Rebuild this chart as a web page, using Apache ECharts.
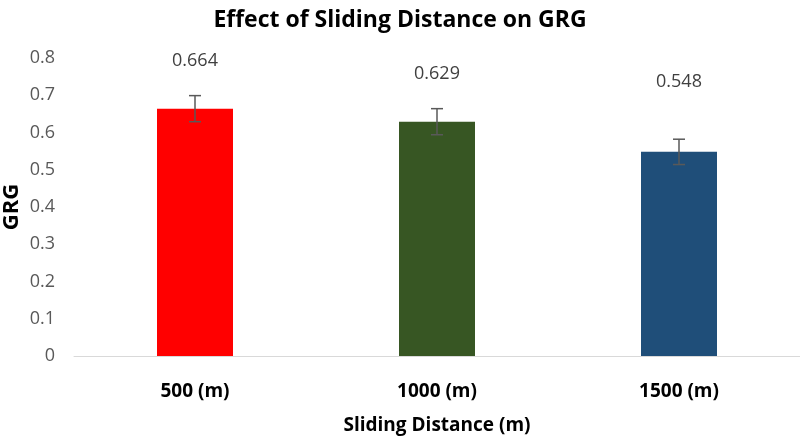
<!DOCTYPE html>
<html>
<head>
<meta charset="utf-8">
<script src="https://cdn.jsdelivr.net/npm/echarts@6/dist/echarts.min.js"></script>
<style>
  html, body { margin: 0; padding: 0; background: #fff; }
  #main { width: 800px; height: 436px; }
</style>
</head>
<body>
<div id="main"></div>
<script>
  // data
  var categories = ['500 (m)', '1000 (m)', '1500 (m)'];
  var grgValues = [0.664, 0.629, 0.548];
  var errValues = [0.035, 0.035, 0.034];
  var barColors = ['#ff0000', '#375623', '#1f4e79'];
  var yTicks = [0, 0.1, 0.2, 0.3, 0.4, 0.5, 0.6, 0.7, 0.8];

  // label gap above each bar (px), matches the hand placed labels
  var labelGap = [39, 39, 61];

  var chart = echarts.init(document.getElementById('main'));
  var font = '"Open Sans", "Noto Sans", sans-serif';

  var option = {
    animation: false,
    title: {
      text: 'Effect of Sliding Distance on GRG',
      left: 'center',
      top: 4,
      textStyle: { fontFamily: font, fontSize: 23, fontWeight: 'bold', color: '#000' }
    },
    grid: { left: 74, right: 0, top: 58, bottom: 80, outerBoundsMode: 'none', containLabel: false },
    xAxis: {
      type: 'category',
      data: categories,
      name: 'Sliding Distance (m)',
      nameLocation: 'middle',
      nameGap: 60,
      nameMoveOverlap: false,
      nameTextStyle: { fontFamily: font, fontSize: 19, fontWeight: 'bold', color: '#000' },
      axisLine: { lineStyle: { color: '#d9d9d9', width: 1 } },
      axisTick: { show: false },
      axisLabel: { fontFamily: font, fontSize: 19, fontWeight: 'bold', color: '#000', margin: 26 }
    },
    yAxis: {
      type: 'value',
      min: 0,
      max: 0.8,
      interval: 0.1,
      name: 'GRG',
      nameLocation: 'middle',
      nameGap: 51,
      nameRotate: 90,
      nameMoveOverlap: false,
      nameTextStyle: { fontFamily: font, fontSize: 22, fontWeight: 'bold', color: '#000' },
      splitLine: { show: false },
      axisLine: { show: false },
      axisTick: { show: false },
      axisLabel: {
        fontFamily: font, fontSize: 18, color: '#595959', margin: 19,
        formatter: function (v) { return yTicks.indexOf(+v.toFixed(1)) >= 0 ? String(+v.toFixed(1)) : ''; }
      }
    },
    series: [
      {
        type: 'bar',
        barWidth: 76,
        data: grgValues.map(function (v, i) {
          return {
            value: v,
            itemStyle: { color: barColors[i] },
            label: { distance: labelGap[i] }
          };
        }),
        label: {
          show: true,
          position: 'top',
          fontFamily: font,
          fontSize: 18,
          color: '#404040',
          formatter: function (p) { return p.value.toFixed(3); }
        }
      },
      {
        type: 'custom',
        z: 10,
        data: grgValues.map(function (v, i) { return [i, v - errValues[i], v + errValues[i]]; }),
        renderItem: function (params, api) {
          var lo = api.coord([api.value(0), api.value(1)]);
          var hi = api.coord([api.value(0), api.value(2)]);
          var x = lo[0], cap = 6;
          var st = { stroke: '#595959', lineWidth: 1.5 };
          return {
            type: 'group',
            children: [
              { type: 'line', shape: { x1: x, y1: hi[1], x2: x, y2: lo[1] }, style: st },
              { type: 'line', shape: { x1: x - cap, y1: hi[1], x2: x + cap, y2: hi[1] }, style: st },
              { type: 'line', shape: { x1: x - cap, y1: lo[1], x2: x + cap, y2: lo[1] }, style: st }
            ]
          };
        }
      }
    ]
  };
  chart.setOption(option);
</script>
</body>
</html>
